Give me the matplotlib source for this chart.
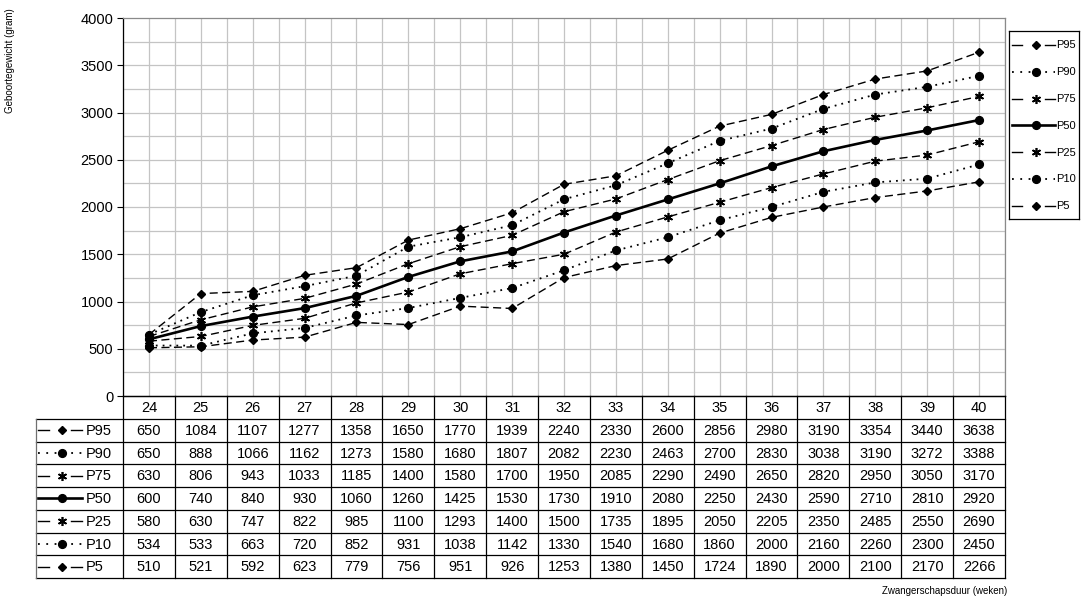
import matplotlib
matplotlib.use("Agg")
import matplotlib.pyplot as plt
import numpy as np

plt.rcParams['font.family'] = ['Liberation Sans', 'DejaVu Sans']

# birth weight percentiles per gestational week
weeks = [24, 25, 26, 27, 28, 29, 30, 31, 32, 33, 34, 35, 36, 37, 38, 39, 40]
p95 = [650, 1084, 1107, 1277, 1358, 1650, 1770, 1939, 2240, 2330, 2600, 2856, 2980, 3190, 3354, 3440, 3638]
p90 = [650, 888, 1066, 1162, 1273, 1580, 1680, 1807, 2082, 2230, 2463, 2700, 2830, 3038, 3190, 3272, 3388]
p75 = [630, 806, 943, 1033, 1185, 1400, 1580, 1700, 1950, 2085, 2290, 2490, 2650, 2820, 2950, 3050, 3170]
p50 = [600, 740, 840, 930, 1060, 1260, 1425, 1530, 1730, 1910, 2080, 2250, 2430, 2590, 2710, 2810, 2920]
p25 = [580, 630, 747, 822, 985, 1100, 1293, 1400, 1500, 1735, 1895, 2050, 2205, 2350, 2485, 2550, 2690]
p10 = [534, 533, 663, 720, 852, 931, 1038, 1142, 1330, 1540, 1680, 1860, 2000, 2160, 2260, 2300, 2450]
p5 = [510, 521, 592, 623, 779, 756, 951, 926, 1253, 1380, 1450, 1724, 1890, 2000, 2100, 2170, 2266]

labels = ['P95', 'P90', 'P75', 'P50', 'P25', 'P10', 'P5']
series = [p95, p90, p75, p50, p25, p10, p5]

dash = (0, (5.8, 3.2))
dot = (0, (1.0, 2.8))
star = (6, 2, 0)
styles = {
    'P95': dict(kind='dash', ls=dash, lw=1.0, marker='D', ms=3.8),
    'P90': dict(kind='dot', ls=dot, lw=1.3, marker='o', ms=5.6),
    'P75': dict(kind='dash', ls=dash, lw=1.0, marker=star, ms=6.5, mew=1.2),
    'P50': dict(kind='solid', ls='-', lw=1.9, marker='o', ms=5.6),
    'P25': dict(kind='dash', ls=dash, lw=1.0, marker=star, ms=6.5, mew=1.2),
    'P10': dict(kind='dot', ls=dot, lw=1.3, marker='o', ms=5.6),
    'P5': dict(kind='dash', ls=dash, lw=1.0, marker='D', ms=3.8),
}

W, H = 1081, 601
fig = plt.figure(figsize=(W / 100, H / 100), dpi=100)

# plot area in pixel terms
L, R, T, B = 123, 1005, 18, 396
ax = fig.add_axes([L / W, 1 - B / H, (R - L) / W, (B - T) / H])
x = np.arange(len(weeks))
for lab, vals in zip(labels, series):
    st = styles[lab]
    ax.plot(x, vals, color='black', linestyle=st['ls'], lw=st['lw'],
            marker=st['marker'], ms=st['ms'], mew=st.get('mew', 1.0),
            mfc='black', mec='black', zorder=3, clip_on=False)

ax.set_xlim(-0.5, len(weeks) - 0.5)
ax.set_ylim(0, 4000)
ax.set_yticks(np.arange(0, 4001, 500))
ax.tick_params(axis='y', which='major', direction='out', length=4, width=0.8,
               labelsize=10.5, pad=3)
ax.set_xticks([])
for v in np.arange(250, 4000, 250):
    ax.axhline(v, color='#c4c4c4', lw=0.9, zorder=1)
for v in np.arange(-0.5, len(weeks), 0.5):
    ax.axvline(v, color='#c4c4c4', lw=0.9, zorder=1)
ax.spines['left'].set_color('black')
ax.spines['bottom'].set_color('black')
ax.spines['top'].set_color('#8a8a8a')
ax.spines['right'].set_color('#8a8a8a')
for s in ax.spines.values():
    s.set_linewidth(0.9)


def draw_key(a, x0, x1, xm, y, st, scale):
    """Line sample with marker, drawn the way the chart keys show it."""
    if st['kind'] == 'dash':
        seg = (x1 - x0) * 0.24
        a.plot([x0, x0 + seg], [y, y], color='black', lw=st['lw'], clip_on=False)
        a.plot([x1 - seg, x1], [y, y], color='black', lw=st['lw'], clip_on=False)
    elif st['kind'] == 'dot':
        a.plot([x0, x1], [y, y], color='black', lw=st['lw'], ls=(0, (1.0, 3.6)),
               clip_on=False)
    else:
        a.plot([x0, x1], [y, y], color='black', lw=st['lw'], clip_on=False)
    a.plot([xm], [y], color='black', marker=st['marker'], ms=st['ms'] * scale,
           mew=st.get('mew', 1.0), clip_on=False)


# data table under the plot
TL, TB = 36, 578
unit = (R - L) / len(weeks)
tx = fig.add_axes([TL / W, 1 - TB / H, (R - TL) / W, (TB - B) / H])
x_left = -0.5 - (L - TL) / unit
tx.set_xlim(x_left, len(weeks) - 0.5)
tx.set_ylim(8, 0)
tx.axis('off')


def px(p):
    return -0.5 + (p - L) / unit


lc = dict(color='black', lw=0.9, clip_on=False)
tx.plot([-0.5, len(weeks) - 0.5], [0, 0], **lc)
for r in range(1, 9):
    tx.plot([x_left, len(weeks) - 0.5], [r, r], **lc)
for k in range(len(weeks) + 1):
    tx.plot([-0.5 + k, -0.5 + k], [0, 8], **lc)
tx.plot([x_left, x_left], [1, 8], color='#707070', lw=0.9, clip_on=False)

for i, wk in enumerate(weeks):
    tx.text(i, 0.52, str(wk), ha='center', va='center', fontsize=10.5)
for r, (lab, vals) in enumerate(zip(labels, series)):
    yy = r + 1.5
    st = styles[lab]
    draw_key(tx, px(38), px(82), px(62), yy, st, 1.0)
    tx.text(px(85.5), yy + 0.03, lab, ha='left', va='center', fontsize=10.5)
    for i, v in enumerate(vals):
        tx.text(i, yy + 0.03, str(v), ha='center', va='center', fontsize=10.5)

# legend box at the right
GL, GR, GT, GB = 1009, 1079, 31, 219
lg = fig.add_axes([GL / W, 1 - GB / H, (GR - GL) / W, (GB - GT) / H])
lg.set_xlim(0, GR - GL)
lg.set_ylim(GB - GT, 0)
lg.set_xticks([])
lg.set_yticks([])
for s in lg.spines.values():
    s.set_color('black')
    s.set_linewidth(0.9)
for r, lab in enumerate(labels):
    yy = 14 + r * 26.8
    st = styles[lab]
    draw_key(lg, 3, 46, 27, yy, st, 1.0)
    lg.text(47.5, yy + 0.5, lab, ha='left', va='center', fontsize=8)

fig.text(10 / W, 1 - 8 / H, 'Geboortegewicht (gram)', rotation=90,
         ha='center', va='top', fontsize=7)
fig.text(1007 / W, 1 - 591 / H, 'Zwangerschapsduur (weken)', ha='right',
         va='center', fontsize=7)

fig.savefig('out.png', dpi=100)
